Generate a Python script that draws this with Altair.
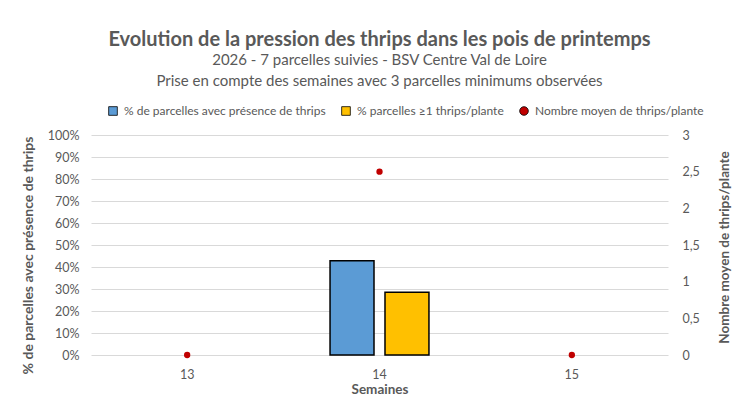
import altair as alt
import pandas as pd

weeks = ["13", "14", "15"]
series_bars = ["% de parcelles avec présence de thrips", "% parcelles ≥1 thrips/plante"]
pct_presence = [None, 3 / 7, None]
pct_ge1 = [None, 2 / 7, None]
mean_label = "Nombre moyen de thrips/plante"
mean_thrips = [0, 2.5, 0]

all_labels = series_bars + [mean_label]
colors = ["#5b9bd5", "#ffc000", "#c00000"]
shapes = ["square", "square", "circle"]

rows = []
for w, a, b in zip(weeks, pct_presence, pct_ge1):
    if a is not None:
        rows.append({"week": w, "serie": series_bars[0], "value": a})
    if b is not None:
        rows.append({"week": w, "serie": series_bars[1], "value": b})
bars_df = pd.DataFrame(rows)
pts_df = pd.DataFrame({"week": weeks, "mean": mean_thrips, "serie": [mean_label] * len(weeks)})

FONT = "Lato"
GREY = "#595959"

xenc = alt.X("week:N", scale=alt.Scale(domain=weeks, paddingInner=0, paddingOuter=0),
             axis=alt.Axis(title="Semaines", labelAngle=0, ticks=False, domain=False,
                           labelPadding=13, labelColor=GREY, titleColor=GREY,
                           labelFontSize=12.5, titleFontSize=13.5, titleFontWeight="bold",
                           labelFont=FONT, titleFont=FONT, titleY=38, titleBaseline="alphabetic"))

color_scale = alt.Scale(domain=all_labels, range=colors)
shape_scale = alt.Scale(domain=all_labels, range=shapes)
legend = alt.Legend(title=None, orient="none", direction="horizontal",
                    legendX=16, legendY=-30, labelFontSize=12, labelColor=GREY,
                    labelFont=FONT, symbolSize=75, symbolStrokeColor="black",
                    symbolStrokeWidth=0.8, columnPadding=14, labelOffset=5, labelLimit=400)

bars = alt.Chart(bars_df).mark_bar(stroke="black", strokeWidth=1.5).encode(
    x=xenc,
    xOffset=alt.XOffset("serie:N", scale=alt.Scale(domain=series_bars, paddingInner=0.2, paddingOuter=0.85)),
    y=alt.Y("value:Q", scale=alt.Scale(domain=[0, 1]),
            axis=alt.Axis(title="% de parcelles avec présence de thrips", format=".0%",
                          values=[i / 10 for i in range(11)], ticks=False, domain=False,
                          gridColor="#d9d9d9", labelColor=GREY, titleColor=GREY,
                          labelFontSize=12.5, titleFontSize=14, titleFontWeight="bold",
                          labelFont=FONT, titleFont=FONT, labelPadding=12, titlePadding=12,
                          titleY=120)),
    color=alt.Color("serie:N", scale=color_scale, legend=legend),
    shape=alt.Shape("serie:N", scale=shape_scale, legend=legend),
)

points = alt.Chart(pts_df).mark_point(filled=True, opacity=1, size=40).encode(
    x=alt.X("week:N"),
    y=alt.Y("mean:Q", scale=alt.Scale(domain=[0, 3]),
            axis=alt.Axis(title=mean_label, orient="right", values=[0, 0.5, 1, 1.5, 2, 2.5, 3],
                          labelExpr="replace(format(datum.value, '.1~f'), '.', ',')",
                          ticks=False, domain=False, grid=False, labelColor=GREY, titleColor=GREY,
                          labelFontSize=12.5, titleFontSize=13.5, titleFontWeight="bold",
                          labelFont=FONT, titleFont=FONT, labelPadding=14,
                          titleAngle=270, titleX=56, titleY=112, titleAlign="center",
                          titleBaseline="middle")),
    color=alt.Color("serie:N", scale=color_scale, legend=legend),
    shape=alt.Shape("serie:N", scale=shape_scale, legend=legend),
)

chart = alt.layer(bars, points).resolve_scale(y="independent").properties(
    width=577, height=220,
    title=alt.TitleParams(
        text="Evolution de la pression des thrips dans les pois de printemps",
        subtitle=["2026 - 7 parcelles suivies - BSV Centre Val de Loire",
                  "Prise en compte des semaines avec 3 parcelles minimums observées"],
        fontSize=20, subtitleFontSize=15, color=GREY, subtitleColor=GREY,
        font=FONT, subtitleFont=FONT, fontWeight="bold", anchor="middle", offset=16,
        subtitlePadding=3, subtitleLineHeight=21),
    autosize=alt.AutoSizeParams(type="none"),
    padding={"left": 83, "top": 127, "right": 65, "bottom": 40},
).configure_view(stroke=None)

chart.save("out.html", embed_options={"renderer": "svg", "actions": False})
